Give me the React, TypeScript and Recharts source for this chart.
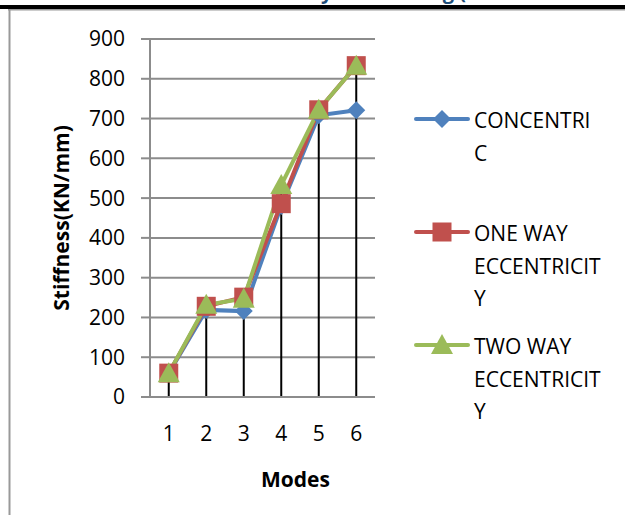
import React from 'react'
import { ComposedChart, Line, ErrorBar, XAxis, YAxis, CartesianGrid, Label } from 'recharts'

const modes = ['1', '2', '3', '4', '5', '6']
const concentric = [60, 219, 216, 480, 708, 721]
const oneWay = [60, 228, 251, 486, 722, 833]
const twoWay = [60, 232, 247, 533, 722, 833]
const yTicks = [0, 100, 200, 300, 400, 500, 600, 700, 800, 900]

const legendLines = [
  ['CONCENTRI', 'C'],
  ['ONE WAY', 'ECCENTRICIT', 'Y'],
  ['TWO WAY', 'ECCENTRICIT', 'Y'],
]

const BLUE = '#4f81bd'
const RED = '#c0504d'
const GREEN = '#9bbb59'
const GRID = '#8c8c8c'
const FONT = '"Open Sans", sans-serif'

const data = modes.map((m, i) => {
  const top = Math.max(concentric[i], oneWay[i], twoWay[i])
  return {
    mode: m,
    concentric: concentric[i],
    oneWay: oneWay[i],
    twoWay: twoWay[i],
    drop: top,
    dropErr: [top, 0],
  }
})

type Shape = 'diamond' | 'square' | 'triangle'

function marker(shape: Shape, cx: number, cy: number, fill: string, key?: string) {
  if (shape === 'diamond') {
    const r = 9
    return <path key={key} d={`M${cx},${cy - r}L${cx + r},${cy}L${cx},${cy + r}L${cx - r},${cy}Z`} fill={fill} />
  }
  if (shape === 'square') {
    const r = 9.5
    return <rect key={key} x={cx - r} y={cy - r} width={r * 2} height={r * 2} fill={fill} />
  }
  const w = 11
  return <path key={key} d={`M${cx},${cy - 11}L${cx + w},${cy + 9}L${cx - w},${cy + 9}Z`} fill={fill} />
}

const dotFor = (shape: Shape, fill: string) => (p: any) => {
  if (p.cx == null || p.cy == null) return <g key={`e-${p.index}`} />
  return marker(shape, p.cx, p.cy, fill, `${shape}-${p.index}`)
}

const series: { key: string; color: string; shape: Shape }[] = [
  { key: 'concentric', color: BLUE, shape: 'diamond' },
  { key: 'oneWay', color: RED, shape: 'square' },
  { key: 'twoWay', color: GREEN, shape: 'triangle' },
]

export default function App() {
  return (
    <div style={{ position: 'fixed', left: 0, top: 0, width: 625, height: 515, background: '#fff', fontFamily: FONT }}>
      <ComposedChart
        width={625}
        height={515}
        data={data}
        margin={{ top: 39, right: 250, bottom: 0, left: 0 }}
      >
        <CartesianGrid horizontal vertical={false} stroke={GRID} strokeWidth={2} />
        <XAxis
          dataKey="mode"
          height={118}
          padding={{ left: 18.75, right: 18.75 }}
          axisLine={{ stroke: GRID, strokeWidth: 2 }}
          tickLine={false}
          tickSize={0}
          tickMargin={29}
          tick={{ fontSize: 21, fill: '#000', fontFamily: FONT }}
        >
          <Label value="Modes" position="center" dx={33} dy={24} style={{ fontSize: 21, fontWeight: 700, fill: '#000', fontFamily: FONT }} />
        </XAxis>
        <YAxis
          width={150}
          domain={[0, 900]}
          ticks={yTicks}
          interval={0}
          axisLine={{ stroke: GRID, strokeWidth: 2 }}
          tickLine={{ stroke: GRID, strokeWidth: 2 }}
          tickSize={9}
          tickMargin={16}
          tick={{ fontSize: 21, fill: '#000', fontFamily: FONT }}
        >
          <Label value="Stiffness(KN/mm)" angle={-90} position="center" dx={-13} style={{ fontSize: 21, fontWeight: 700, fill: '#000', fontFamily: FONT, textAnchor: 'middle' }} />
        </YAxis>
        {series.map(s => (
          <Line
            key={s.key}
            dataKey={s.key}
            stroke={s.color}
            strokeWidth={4}
            dot={dotFor(s.shape, s.color)}
            activeDot={false}
            isAnimationActive={false}
          />
        ))}
        {/* drop lines from the highest point down to the axis */}
        <Line dataKey="drop" stroke="none" dot={false} activeDot={false} isAnimationActive={false}>
          <ErrorBar dataKey="dropErr" direction="y" width={0} stroke="#000" strokeWidth={2} isAnimationActive={false} />
        </Line>
      </ComposedChart>

      <svg width={625} height={515} style={{ position: 'absolute', left: 0, top: 0, pointerEvents: 'none' }}>
        <text x={466} y={-1} textAnchor="end" fontSize={20} fontWeight={700} fill="#1f4e79" fontFamily={FONT}>
          Variation of Stiffness by Mode Using (
        </text>
        <rect x={0} y={5} width={625} height={4} fill="#000" />
        <rect x={8} y={9} width={617} height={1.5} fill="#999" />
        <rect x={8.5} y={9} width={2} height={506} fill="#999" />
        {series.map((s, i) => {
          const y = 119 + i * 113
          return (
            <g key={s.key}>
              <line x1={416} x2={468} y1={y} y2={y} stroke={s.color} strokeWidth={4} strokeLinecap="round" />
              {marker(s.shape, 442, y, s.color)}
              <text x={474} fontSize={21} fill="#000" fontFamily={FONT}>
                {legendLines[i].map((t, j) => (
                  <tspan key={j} x={474} y={y + 9 + j * 32.5}>{t}</tspan>
                ))}
              </text>
            </g>
          )
        })}
      </svg>
    </div>
  )
}
